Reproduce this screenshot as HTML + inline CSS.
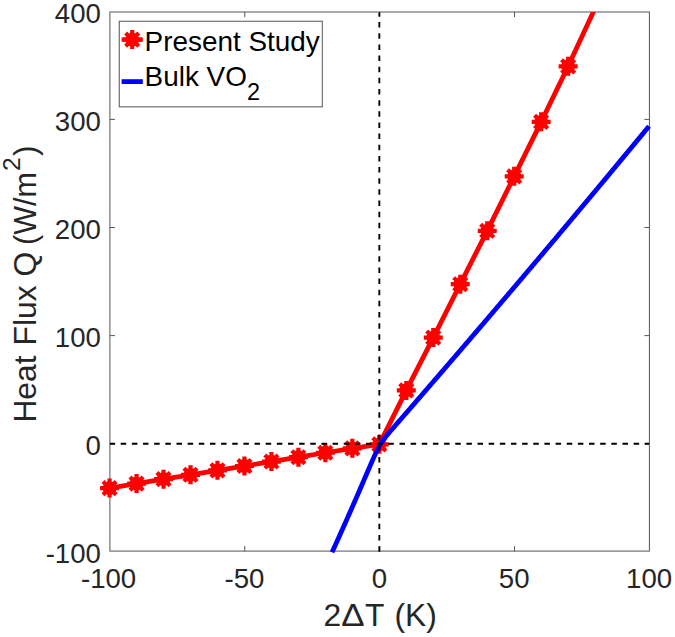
<!DOCTYPE html>
<html><head><meta charset="utf-8"><title>Heat Flux</title>
<style>
html,body{margin:0;padding:0;background:#fff;}
body{width:675px;height:637px;overflow:hidden;}
svg{display:block;}
text{font-family:"Liberation Sans",Arial,Helvetica,sans-serif;font-size:27.6px;fill:#262626;}
.leg text{fill:#000;}
</style></head><body>
<svg width="675" height="637" viewBox="0 0 675 637">
<rect x="0" y="0" width="675" height="637" fill="#ffffff"/>
<defs><clipPath id="axb"><rect x="109.9" y="12.0" width="559.50" height="559.10"/></clipPath><clipPath id="ax"><rect x="109.9" y="12.0" width="539.50" height="539.10"/></clipPath></defs>

<rect x="109.9" y="12.0" width="539.50" height="539.10" fill="none" stroke="#555555" stroke-width="1"/>
<path d="M244.75 551.1v-5.0M244.75 12.0v5.0M379.63 551.1v-5.0M379.63 12.0v5.0M514.50 551.1v-5.0M514.50 12.0v5.0M109.9 443.70h5.0M649.4 443.70h-5.0M109.9 335.60h5.0M649.4 335.60h-5.0M109.9 227.50h5.0M649.4 227.50h-5.0M109.9 119.40h5.0M649.4 119.40h-5.0" stroke="#555555" stroke-width="1" fill="none"/>
<g clip-path="url(#ax)">
<polyline points="109.58,488.07 136.56,483.62 163.53,479.16 190.50,474.81 217.48,470.36 244.45,466.01 271.43,461.55 298.40,457.21 325.38,452.75 352.35,448.33 379.33,444.34 406.31,390.41 433.28,337.57 460.25,284.18 487.23,230.80 514.20,176.33 541.18,121.87 568.15,66.32 595.13,8.09" fill="none" stroke="#ff0000" stroke-width="4.8" stroke-linejoin="round"/>
</g>
<circle cx="109.58" cy="488.07" r="6.9" fill="#ff0000"/><path d="M100.08 488.07H119.08M109.58 478.57V497.57M103.00 481.50L116.16 494.65M103.00 494.65L116.16 481.50" stroke="#ff0000" stroke-width="4.2" fill="none"/>
<circle cx="136.56" cy="483.62" r="6.9" fill="#ff0000"/><path d="M127.06 483.62H146.06M136.56 474.12V493.12M129.98 477.04L143.13 490.19M129.98 490.19L143.13 477.04" stroke="#ff0000" stroke-width="4.2" fill="none"/>
<circle cx="163.53" cy="479.16" r="6.9" fill="#ff0000"/><path d="M154.03 479.16H173.03M163.53 469.66V488.66M156.95 472.59L170.11 485.74M156.95 485.74L170.11 472.59" stroke="#ff0000" stroke-width="4.2" fill="none"/>
<circle cx="190.50" cy="474.81" r="6.9" fill="#ff0000"/><path d="M181.00 474.81H200.00M190.50 465.31V484.31M183.93 468.24L197.08 481.39M183.93 481.39L197.08 468.24" stroke="#ff0000" stroke-width="4.2" fill="none"/>
<circle cx="217.48" cy="470.36" r="6.9" fill="#ff0000"/><path d="M207.98 470.36H226.98M217.48 460.86V479.86M210.90 463.78L224.06 476.93M210.90 476.93L224.06 463.78" stroke="#ff0000" stroke-width="4.2" fill="none"/>
<circle cx="244.45" cy="466.01" r="6.9" fill="#ff0000"/><path d="M234.95 466.01H253.95M244.45 456.51V475.51M237.88 459.43L251.03 472.59M237.88 472.59L251.03 459.43" stroke="#ff0000" stroke-width="4.2" fill="none"/>
<circle cx="271.43" cy="461.55" r="6.9" fill="#ff0000"/><path d="M261.93 461.55H280.93M271.43 452.05V471.05M264.85 454.98L278.01 468.13M264.85 468.13L278.01 454.98" stroke="#ff0000" stroke-width="4.2" fill="none"/>
<circle cx="298.40" cy="457.21" r="6.9" fill="#ff0000"/><path d="M288.90 457.21H307.90M298.40 447.71V466.71M291.83 450.63L304.98 463.78M291.83 463.78L304.98 450.63" stroke="#ff0000" stroke-width="4.2" fill="none"/>
<circle cx="325.38" cy="452.75" r="6.9" fill="#ff0000"/><path d="M315.88 452.75H334.88M325.38 443.25V462.25M318.80 446.18L331.96 459.33M318.80 459.33L331.96 446.18" stroke="#ff0000" stroke-width="4.2" fill="none"/>
<circle cx="352.35" cy="448.33" r="6.9" fill="#ff0000"/><path d="M342.85 448.33H361.85M352.35 438.83V457.83M345.78 441.75L358.93 454.91M345.78 454.91L358.93 441.75" stroke="#ff0000" stroke-width="4.2" fill="none"/>
<circle cx="379.33" cy="444.34" r="6.9" fill="#ff0000"/><path d="M369.83 444.34H388.83M379.33 434.84V453.84M372.75 437.76L385.91 450.92M372.75 450.92L385.91 437.76" stroke="#ff0000" stroke-width="4.2" fill="none"/>
<circle cx="406.31" cy="390.41" r="6.9" fill="#ff0000"/><path d="M396.81 390.41H415.81M406.31 380.91V399.91M399.73 383.84L412.88 396.99M399.73 396.99L412.88 383.84" stroke="#ff0000" stroke-width="4.2" fill="none"/>
<circle cx="433.28" cy="337.57" r="6.9" fill="#ff0000"/><path d="M423.78 337.57H442.78M433.28 328.07V347.07M426.70 330.99L439.86 344.14M426.70 344.14L439.86 330.99" stroke="#ff0000" stroke-width="4.2" fill="none"/>
<circle cx="460.25" cy="284.18" r="6.9" fill="#ff0000"/><path d="M450.75 284.18H469.75M460.25 274.68V293.68M453.68 277.61L466.83 290.76M453.68 290.76L466.83 277.61" stroke="#ff0000" stroke-width="4.2" fill="none"/>
<circle cx="487.23" cy="230.80" r="6.9" fill="#ff0000"/><path d="M477.73 230.80H496.73M487.23 221.30V240.30M480.65 224.22L493.81 237.37M480.65 237.37L493.81 224.22" stroke="#ff0000" stroke-width="4.2" fill="none"/>
<circle cx="514.20" cy="176.33" r="6.9" fill="#ff0000"/><path d="M504.70 176.33H523.70M514.20 166.83V185.83M507.63 169.76L520.78 182.91M507.63 182.91L520.78 169.76" stroke="#ff0000" stroke-width="4.2" fill="none"/>
<circle cx="541.18" cy="121.87" r="6.9" fill="#ff0000"/><path d="M531.68 121.87H550.68M541.18 112.37V131.37M534.60 115.29L547.76 128.44M534.60 128.44L547.76 115.29" stroke="#ff0000" stroke-width="4.2" fill="none"/>
<circle cx="568.15" cy="66.32" r="6.9" fill="#ff0000"/><path d="M558.65 66.32H577.65M568.15 56.82V75.82M561.58 59.75L574.73 72.90M561.58 72.90L574.73 59.75" stroke="#ff0000" stroke-width="4.2" fill="none"/>
<g clip-path="url(#axb)">
<polyline points="332.03,552.30 332.12,552.09 333.47,549.13 334.82,546.17 336.17,543.19 337.52,540.21 338.87,537.23 340.22,534.23 341.56,531.22 342.91,528.21 344.26,525.19 345.61,522.16 346.96,519.12 348.31,516.08 349.66,513.02 351.01,509.96 352.35,506.89 353.70,503.81 355.05,500.73 356.40,497.64 357.75,494.53 359.10,491.42 360.45,488.31 361.80,485.18 363.14,482.05 364.49,478.91 365.84,475.77 367.19,472.63 368.54,469.49 369.89,466.35 371.24,463.23 372.59,460.14 373.94,457.11 375.28,454.15 376.63,451.32 377.98,448.64 379.33,446.15 380.68,443.86 382.03,441.78 383.38,439.85 384.72,438.06 386.07,436.35 387.42,434.70 388.77,433.09 390.12,431.51 391.47,429.94 392.82,428.38 394.17,426.82 395.51,425.27 396.86,423.72 398.21,422.17 399.56,420.62 400.91,419.07 402.26,417.52 403.61,415.97 404.96,414.41 406.31,412.86 407.65,411.31 409.00,409.76 410.35,408.21 411.70,406.65 413.05,405.10 414.40,403.55 415.75,401.99 417.09,400.44 418.44,398.88 419.79,397.33 421.14,395.77 422.49,394.21 423.84,392.66 425.19,391.10 426.54,389.54 427.88,387.98 429.23,386.42 430.58,384.86 431.93,383.30 433.28,381.74 434.63,380.18 435.98,378.62 437.33,377.06 438.67,375.50 440.02,373.93 441.37,372.37 442.72,370.81 444.07,369.24 445.42,367.68 446.77,366.11 448.12,364.55 449.46,362.98 450.81,361.42 452.16,359.85 453.51,358.28 454.86,356.72 456.21,355.15 457.56,353.58 458.91,352.01 460.25,350.44 461.60,348.87 462.95,347.30 464.30,345.73 465.65,344.16 467.00,342.59 468.35,341.01 469.70,339.44 471.04,337.87 472.39,336.29 473.74,334.72 475.09,333.14 476.44,331.57 477.79,329.99 479.14,328.42 480.49,326.84 481.83,325.26 483.18,323.69 484.53,322.11 485.88,320.53 487.23,318.95 488.58,317.37 489.93,315.79 491.28,314.21 492.62,312.63 493.97,311.05 495.32,309.47 496.67,307.89 498.02,306.31 499.37,304.72 500.72,303.14 502.07,301.56 503.41,299.97 504.76,298.39 506.11,296.80 507.46,295.22 508.81,293.63 510.16,292.04 511.51,290.46 512.86,288.87 514.20,287.28 515.55,285.69 516.90,284.11 518.25,282.52 519.60,280.93 520.95,279.34 522.30,277.75 523.65,276.15 525.00,274.56 526.34,272.97 527.69,271.38 529.04,269.79 530.39,268.19 531.74,266.60 533.09,265.00 534.44,263.41 535.78,261.81 537.13,260.22 538.48,258.62 539.83,257.03 541.18,255.43 542.53,253.83 543.88,252.23 545.23,250.64 546.57,249.04 547.92,247.44 549.27,245.84 550.62,244.24 551.97,242.64 553.32,241.04 554.67,239.43 556.02,237.83 557.37,236.23 558.71,234.63 560.06,233.02 561.41,231.42 562.76,229.81 564.11,228.21 565.46,226.60 566.81,225.00 568.15,223.39 569.50,221.79 570.85,220.18 572.20,218.57 573.55,216.96 574.90,215.35 576.25,213.75 577.60,212.14 578.94,210.53 580.29,208.92 581.64,207.31 582.99,205.69 584.34,204.08 585.69,202.47 587.04,200.86 588.39,199.24 589.73,197.63 591.08,196.02 592.43,194.40 593.78,192.79 595.13,191.17 596.48,189.56 597.83,187.94 599.18,186.32 600.52,184.71 601.87,183.09 603.22,181.47 604.57,179.85 605.92,178.23 607.27,176.61 608.62,174.99 609.97,173.37 611.31,171.75 612.66,170.13 614.01,168.51 615.36,166.89 616.71,165.26 618.06,163.64 619.41,162.02 620.76,160.39 622.11,158.77 623.45,157.14 624.80,155.52 626.15,153.89 627.50,152.27 628.85,150.64 630.20,149.01 631.55,147.38 632.89,145.76 634.24,144.13 635.59,142.50 636.94,140.87 638.29,139.24 639.64,137.61 640.99,135.98 642.34,134.35 643.68,132.71 645.03,131.08 646.38,129.45 647.73,127.82 649.08,126.18" fill="none" stroke="#0000ff" stroke-width="4.8" stroke-linejoin="round"/>
<path d="M109.58 443.80H649.08" stroke="#000" stroke-width="1.9" stroke-dasharray="5.5 5.65" fill="none"/>
<path d="M379.33 551.65V12.40" stroke="#000" stroke-width="1.9" stroke-dasharray="5.5 5.65" fill="none"/>
</g>
<text x="100.9" y="22.60" text-anchor="end">400</text>
<text x="100.9" y="130.70" text-anchor="end">300</text>
<text x="100.9" y="238.80" text-anchor="end">200</text>
<text x="100.9" y="346.90" text-anchor="end">100</text>
<text x="100.9" y="455.00" text-anchor="end">0</text>
<text x="100.9" y="563.10" text-anchor="end">-100</text>
<text x="108.58" y="588.1" text-anchor="middle">-100</text>
<text x="244.45" y="588.1" text-anchor="middle">-50</text>
<text x="379.33" y="588.1" text-anchor="middle">0</text>
<text x="514.20" y="588.1" text-anchor="middle">50</text>
<text x="649.08" y="588.1" text-anchor="middle">100</text>
<text x="323.6" y="626.4" style="font-size:31.8px">2<tspan textLength="23.3" lengthAdjust="spacingAndGlyphs">&#916;</tspan><tspan x="365">T </tspan><tspan x="394.4">(K)</tspan></text>
<text transform="translate(36.4 422.6) rotate(-90)" style="font-size:31.8px"><tspan x="0">Heat</tspan> <tspan x="77.2">Flux</tspan> <tspan x="146">Q</tspan> <tspan x="177.6" textLength="72.8" lengthAdjust="spacingAndGlyphs">(W/m</tspan><tspan x="251.6" dy="-16.5" style="font-size:24.5px">2</tspan><tspan x="266.5" dy="16.5">)</tspan></text>
<g class="leg">
<rect x="119.25" y="21.25" width="203.05" height="85.6" fill="#fff" stroke="#555555" stroke-width="1"/>
<path d="M121.6 39.6H142.8" stroke="#ff0000" stroke-width="4.2"/>
<circle cx="132.20" cy="39.60" r="6.9" fill="#ff0000"/><path d="M122.70 39.60H141.70M132.20 30.10V49.10M125.62 33.02L138.78 46.18M125.62 46.18L138.78 33.02" stroke="#ff0000" stroke-width="4.2" fill="none"/>
<path d="M121.6 81.6H142.8" stroke="#0000ff" stroke-width="4.8"/>
<text x="144.6" y="50.8" style="font-size:27.9px">Present Study</text>
<text x="144.6" y="86" style="font-size:27.9px">Bulk VO<tspan dy="14.3" style="font-size:23.5px">2</tspan></text>
</g>
</svg></body></html>
